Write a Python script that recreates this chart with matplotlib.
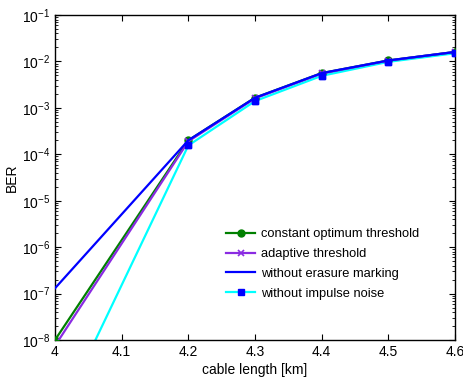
import matplotlib.pyplot as plt
import matplotlib.ticker as mticker
import numpy as np

plt.rcParams['font.family'] = ['Liberation Sans', 'DejaVu Sans']

length = [4.0, 4.2, 4.3, 4.4, 4.5, 4.6]
ber_const = [1.0e-8, 2.0e-4, 1.65e-3, 5.6e-3, 1.05e-2, 1.6e-2]
ber_adapt = [7.5e-9, 1.9e-4, 1.6e-3, 5.5e-3, 1.04e-2, 1.6e-2]
ber_noerase = [1.3e-7, 2.0e-4, 1.65e-3, 5.6e-3, 1.05e-2, 1.6e-2]
ber_noimpulse = [1.5e-10, 1.55e-4, 1.4e-3, 4.9e-3, 9.8e-3, 1.5e-2]

labels = ['constant optimum threshold', 'adaptive threshold',
          'without erasure marking', 'without impulse noise']

fig = plt.figure(figsize=(4.64, 3.79), dpi=100)
ax = fig.add_axes([0.1185, 0.1029, 0.8621, 0.8575])

ax.semilogy(length, ber_noimpulse, color='cyan', lw=1.6, marker='s', ms=5,
            mfc='blue', mec='blue', label=labels[3], zorder=2)
ax.semilogy(length, ber_const, color='green', lw=1.6, marker='o', ms=5,
            label=labels[0], zorder=3)
ax.semilogy(length, ber_adapt, color='#8a2be2', lw=1.6, marker='x', ms=4,
            mew=1.2, label=labels[1], zorder=4)
ax.semilogy(length, ber_noerase, color='blue', lw=1.6, label=labels[2], zorder=5)
# squares of the impulse-noise curve show on top
ax.semilogy(length, ber_noimpulse, ls='none', marker='s', ms=5,
            mfc='blue', mec='blue', zorder=6)

ax.set_xlim(4.0, 4.6)
ax.set_ylim(1e-8, 1e-1)
ax.set_xticks(np.arange(4.0, 4.61, 0.1))
ax.set_xticklabels(['4', '4.1', '4.2', '4.3', '4.4', '4.5', '4.6'])
ax.yaxis.set_minor_formatter(mticker.NullFormatter())
ax.xaxis.offsetText.set_visible(False)
ax.yaxis.offsetText.set_visible(False)
ax.tick_params(which='both', direction='in', top=True, right=True, labelsize=10)
ax.tick_params(which='major', length=4)
ax.tick_params(which='minor', length=2)
ax.set_xlabel('cable length [km]', fontsize=10, labelpad=3)
ax.set_ylabel('BER', fontsize=10, labelpad=2)
for s in ax.spines.values():
    s.set_linewidth(1.0)

h, l = ax.get_legend_handles_labels()
order = [l.index(x) for x in labels]
ax.legend([h[i] for i in order], [l[i] for i in order], frameon=False,
          loc='lower right', bbox_to_anchor=(0.94, 0.088), fontsize=9.3,
          handlelength=2.3, handletextpad=0.45, labelspacing=0.6)

fig.savefig('out.png', dpi=100)
